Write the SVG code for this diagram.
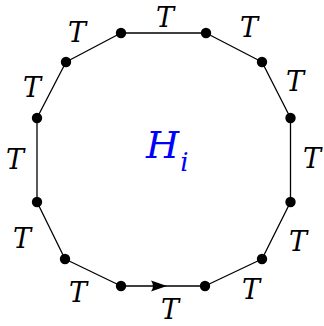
<svg xmlns="http://www.w3.org/2000/svg" width="324" height="326" viewBox="0 0 324 326">
<style>
.edge{fill:none;stroke:#000;stroke-width:1.3;stroke-linejoin:round}
.dot{fill:#000}
.lbl{font-family:'DejaVu Serif','Liberation Serif',serif;font-style:italic;font-size:27px;fill:#000;text-anchor:middle}
.h{font-family:'DejaVu Serif','Liberation Serif',serif;font-style:italic;fill:#0000ff}
</style>
<rect width="324" height="326" fill="#fff"/>
<g id="connectors">
<polygon class="edge" points="121,33 206,33 262,62 290.5,118 290.5,202 262,259 205,286 121,286 65,259 37,202 37,118 66,62"/>
<path d="M167,286 L151,280.5 Q155,286 151,291.5 Z" fill="#000"/>
</g>
<g id="nodes">
<circle id="n1" class="dot" cx="121" cy="33" r="5.2"/>
<circle id="n2" class="dot" cx="206" cy="33" r="5.2"/>
<circle id="n3" class="dot" cx="262" cy="62" r="5.2"/>
<circle id="n4" class="dot" cx="290.5" cy="118" r="5.2"/>
<circle id="n5" class="dot" cx="290.5" cy="202" r="5.2"/>
<circle id="n6" class="dot" cx="262" cy="259" r="5.2"/>
<circle id="n7" class="dot" cx="205" cy="286" r="5.2"/>
<circle id="n8" class="dot" cx="121" cy="286" r="5.2"/>
<circle id="n9" class="dot" cx="65" cy="259" r="5.2"/>
<circle id="n10" class="dot" cx="37" cy="202" r="5.2"/>
<circle id="n11" class="dot" cx="37" cy="118" r="5.2"/>
<circle id="n12" class="dot" cx="66" cy="62" r="5.2"/>
</g>
<g id="labels">
<text class="lbl" x="165" y="27">T</text>
<text class="lbl" x="249" y="37">T</text>
<text class="lbl" x="295" y="91">T</text>
<text class="lbl" x="312" y="168">T</text>
<text class="lbl" x="298" y="251">T</text>
<text class="lbl" x="251" y="299">T</text>
<text class="lbl" x="170" y="319">T</text>
<text class="lbl" x="78" y="302">T</text>
<text class="lbl" x="22" y="248">T</text>
<text class="lbl" x="15" y="169">T</text>
<text class="lbl" x="32" y="97">T</text>
<text class="lbl" x="77" y="42">T</text>
</g>
<g id="title">
<text class="h" x="146" y="158" font-size="38">H<tspan font-size="26" dx="1" dy="13">i</tspan></text>
</g>
</svg>
